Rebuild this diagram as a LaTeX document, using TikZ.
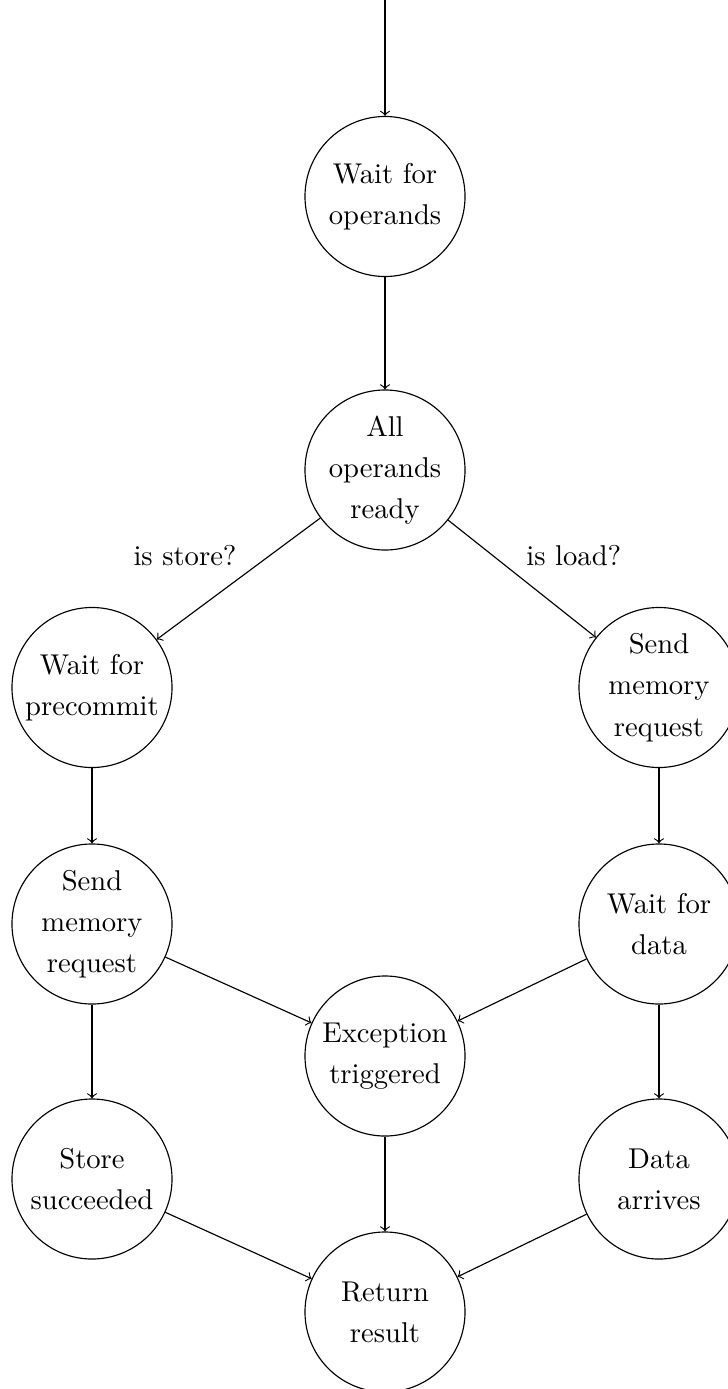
\documentclass[tikz,border=0pt]{standalone}
\begin{document}
\begin{tikzpicture}[x=0.3493pt, y=-0.3493pt,
  state/.style={circle, draw, minimum size=55.9pt, inner sep=0pt,
    align=center, font=\fontsize{10}{14.4}\selectfont},
  flow/.style={->},
  cond/.style={font=\fontsize{10}{12}\selectfont, pos=0.475}]
\useasboundingbox (0,0) rectangle (728,1389);

% states
\coordinate (entry) at (385,0);
\node[state] (waitops)   at (385,196.5) {Wait for\\operands};
\node[state] (ready)     at (385,470)   {All\\operands\\ready};
\node[state] (precommit) at (92,687.5)  {Wait for\\precommit};
\node[state] (sendload)  at (659,687.5) {Send\\memory\\request};
\node[state] (sendstore) at (92,924)    {Send\\memory\\request};
\node[state] (waitdata)  at (659,924)   {Wait for\\data};
\node[state] (except)    at (385,1056)  {Exception\\triggered};
\node[state] (stored)    at (92,1179)   {Store\\succeeded};
\node[state] (arrives)   at (659,1179)  {Data\\arrives};
\node[state] (result)    at (385,1312)  {Return\\result};

% transitions
\draw[flow] (entry) -- (waitops);
\draw[flow] (waitops) -- (ready);
\draw[flow] (ready) -- node[cond, anchor=south east, xshift=1.4pt] {is store?} (precommit);
\draw[flow] (ready) -- node[cond, anchor=south west, xshift=-0.7pt] {is load?} (sendload);
\draw[flow] (precommit) -- (sendstore);
\draw[flow] (sendload) -- (waitdata);
\draw[flow] (sendstore) -- (except);
\draw[flow] (waitdata) -- (except);
\draw[flow] (sendstore) -- (stored);
\draw[flow] (waitdata) -- (arrives);
\draw[flow] (except) -- (result);
\draw[flow] (stored) -- (result);
\draw[flow] (arrives) -- (result);
\end{tikzpicture}
\end{document}
